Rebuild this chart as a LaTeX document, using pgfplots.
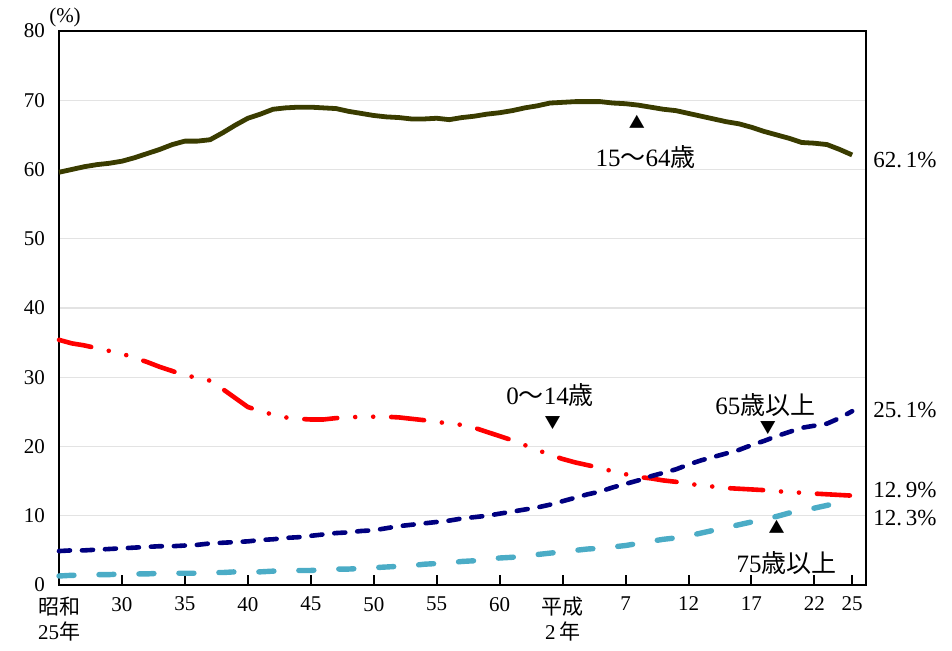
\documentclass[border=0pt]{standalone}
\usepackage{fontspec}
\setmainfont{Liberation Serif}
\newfontfamily\jp{Noto Sans CJK JP}
\usepackage{pgfplots}
\pgfplotsset{compat=1.18}
\definecolor{cOlive}{RGB}{58,60,0}
\definecolor{cRed}{RGB}{255,0,0}
\definecolor{cNavy}{RGB}{0,0,128}
\definecolor{cAqua}{RGB}{75,172,198}
\begin{document}
\begin{tikzpicture}
\begin{axis}[
  at={(0,0)}, anchor=south west,
  scale only axis, width=403.5pt, height=277pt,
  xmin=1950, xmax=2014.1, ymin=0, ymax=80,
  clip=false,
  axis line style={line width=1.2pt, black},
  xtick={1950,1955,1960,1965,1970,1975,1980,1985,1990,1995,2000,2005,2010,2013},
  xticklabels={{{\jp 昭和}\\25{\jp 年}},30,35,40,45,50,55,60,{{\jp 平成}\\2\,{\jp 年}},7,12,17,22,25},
  xticklabel style={align=center, anchor=north, yshift=-2.5pt, font=\fontsize{10.5}{12.5}\selectfont},
  xtick pos=lower, tick align=inside,
  major tick length=5pt,
  x tick style={black, line width=1pt},
  ytick={0,10,...,80},
  y tick style={draw=none},
  yticklabel style={font=\fontsize{10.5}{12}\selectfont, xshift=-3.5pt},
  /pgf/number format/assume math mode=true,
  ymajorgrids, grid style={gray!22, line width=0.6pt},
]
% 15-64
\addplot[cOlive, line width=2.4pt, line join=round] coordinates {
(1950,59.6)(1951,60.0)(1952,60.4)(1953,60.7)(1954,60.9)(1955,61.2)(1956,61.7)(1957,62.3)(1958,62.9)(1959,63.6)
(1960,64.1)(1961,64.1)(1962,64.3)(1963,65.3)(1964,66.4)(1965,67.4)(1966,68.0)(1967,68.7)(1968,68.9)(1969,69.0)
(1970,69.0)(1971,68.9)(1972,68.8)(1973,68.4)(1974,68.1)(1975,67.8)(1976,67.6)(1977,67.5)(1978,67.3)(1979,67.3)
(1980,67.4)(1981,67.2)(1982,67.5)(1983,67.7)(1984,68.0)(1985,68.2)(1986,68.5)(1987,68.9)(1988,69.2)(1989,69.6)
(1990,69.7)(1991,69.8)(1992,69.8)(1993,69.8)(1994,69.6)(1995,69.5)(1996,69.3)(1997,69.0)(1998,68.7)(1999,68.5)
(2000,68.1)(2001,67.7)(2002,67.3)(2003,66.9)(2004,66.6)(2005,66.1)(2006,65.5)(2007,65.0)(2008,64.5)(2009,63.9)
(2010,63.8)(2011,63.6)(2012,62.9)(2013,62.1)};
% 0-14
\addplot[cRed, line width=2.3pt, line cap=round, line join=round,
  dash pattern=on 16.5pt off 9pt on 0pt off 9pt on 0pt off 9pt] coordinates {
(1950,35.4)(1951,34.9)(1952,34.6)(1953,34.2)(1954,33.8)(1955,33.4)(1956,32.8)(1957,32.2)(1958,31.5)(1959,30.9)
(1960,30.2)(1961,30.0)(1962,29.5)(1963,28.3)(1964,27.0)(1965,25.7)(1966,25.1)(1967,24.6)(1968,24.2)(1969,24.0)
(1970,23.9)(1971,23.9)(1972,24.1)(1973,24.2)(1974,24.3)(1975,24.3)(1976,24.3)(1977,24.2)(1978,24.0)(1979,23.8)
(1980,23.5)(1981,23.4)(1982,23.1)(1983,22.7)(1984,22.1)(1985,21.5)(1986,20.9)(1987,20.2)(1988,19.5)(1989,18.8)
(1990,18.2)(1991,17.7)(1992,17.3)(1993,16.9)(1994,16.4)(1995,16.0)(1996,15.6)(1997,15.4)(1998,15.1)(1999,14.9)
(2000,14.6)(2001,14.4)(2002,14.2)(2003,14.0)(2004,13.9)(2005,13.8)(2006,13.7)(2007,13.5)(2008,13.5)(2009,13.3)
(2010,13.2)(2011,13.1)(2012,13.0)(2013,12.9)};
% 65+
\addplot[cNavy, line width=2.3pt, line cap=round, line join=round,
  dash pattern=on 5.5pt off 6pt] coordinates {
(1950,4.9)(1951,5.0)(1952,5.0)(1953,5.1)(1954,5.2)(1955,5.3)(1956,5.4)(1957,5.5)(1958,5.6)(1959,5.6)
(1960,5.7)(1961,5.8)(1962,6.0)(1963,6.1)(1964,6.2)(1965,6.3)(1966,6.5)(1967,6.6)(1968,6.8)(1969,6.9)
(1970,7.1)(1971,7.3)(1972,7.5)(1973,7.6)(1974,7.8)(1975,7.9)(1976,8.2)(1977,8.5)(1978,8.7)(1979,8.9)
(1980,9.1)(1981,9.3)(1982,9.6)(1983,9.8)(1984,10.0)(1985,10.3)(1986,10.6)(1987,10.9)(1988,11.2)(1989,11.6)
(1990,12.1)(1991,12.6)(1992,13.1)(1993,13.5)(1994,14.1)(1995,14.6)(1996,15.1)(1997,15.7)(1998,16.2)(1999,16.7)
(2000,17.4)(2001,18.0)(2002,18.5)(2003,19.0)(2004,19.5)(2005,20.2)(2006,20.8)(2007,21.5)(2008,22.1)(2009,22.7)
(2010,23.0)(2011,23.3)(2012,24.1)(2013,25.1)};
% 75+
\addplot[cAqua, line width=2.7pt, line cap=round, line join=round,
  dash pattern=on 7.5pt off 12.5pt] coordinates {
(1950,1.3)(1951,1.4)(1952,1.4)(1953,1.5)(1954,1.5)(1955,1.6)(1956,1.6)(1957,1.6)(1958,1.7)(1959,1.7)
(1960,1.7)(1961,1.7)(1962,1.8)(1963,1.8)(1964,1.9)(1965,1.9)(1966,1.9)(1967,2.0)(1968,2.0)(1969,2.1)
(1970,2.1)(1971,2.2)(1972,2.3)(1973,2.3)(1974,2.4)(1975,2.5)(1976,2.6)(1977,2.7)(1978,2.8)(1979,3.0)
(1980,3.1)(1981,3.2)(1982,3.4)(1983,3.5)(1984,3.7)(1985,3.9)(1986,4.0)(1987,4.2)(1988,4.4)(1989,4.6)
(1990,4.8)(1991,5.0)(1992,5.2)(1993,5.3)(1994,5.5)(1995,5.7)(1996,6.0)(1997,6.3)(1998,6.6)(1999,6.8)
(2000,7.1)(2001,7.5)(2002,7.9)(2003,8.3)(2004,8.7)(2005,9.1)(2006,9.5)(2007,9.9)(2008,10.4)(2009,10.8)
(2010,11.1)(2011,11.5)(2012,11.9)(2013,12.3)};
% annotations
\node[font=\fontsize{12.5}{14}\selectfont] at (axis cs:1996.6,61.8) {15{\jp 〜}64{\jp 歳}};
\node[font=\jp\fontsize{8}{9}\selectfont] at (axis cs:1995.9,66.9) {▲};
\node[font=\fontsize{12.5}{14}\selectfont] at (axis cs:1989.0,27.4) {0{\jp 〜}14{\jp 歳}};
\node[font=\jp\fontsize{8}{9}\selectfont] at (axis cs:1989.2,23.4) {▼};
\node[font=\fontsize{12.5}{14}\selectfont] at (axis cs:2006.1,26.0) {65{\jp 歳以上}};
\node[font=\jp\fontsize{8}{9}\selectfont] at (axis cs:2006.3,22.7) {▼};
\node[font=\fontsize{12.5}{14}\selectfont] at (axis cs:2007.8,3.2) {75{\jp 歳以上}};
\node[font=\jp\fontsize{8}{9}\selectfont] at (axis cs:2007.0,8.4) {▲};
% right labels
\node[anchor=west, inner sep=0pt, font=\fontsize{11.5}{13}\selectfont] at ([xshift=3.5pt]axis cs:2014.1,61.4) {62.\,1\%};
\node[anchor=west, inner sep=0pt, font=\fontsize{11.5}{13}\selectfont] at ([xshift=3.5pt]axis cs:2014.1,25.3) {25.\,1\%};
\node[anchor=west, inner sep=0pt, font=\fontsize{11.5}{13}\selectfont] at ([xshift=3.5pt]axis cs:2014.1,13.7) {12.\,9\%};
\node[anchor=west, inner sep=0pt, font=\fontsize{11.5}{13}\selectfont] at ([xshift=3.5pt]axis cs:2014.1,9.7) {12.\,3\%};
% unit
\node[font=\fontsize{10.5}{12}\selectfont] at ([xshift=3pt,yshift=7pt]rel axis cs:0,1) {(\%)};
\end{axis}
\pgfresetboundingbox
\path[use as bounding box] (-29.5pt,-33pt) rectangle (446.5pt,292.5pt);
\end{tikzpicture}
\end{document}
